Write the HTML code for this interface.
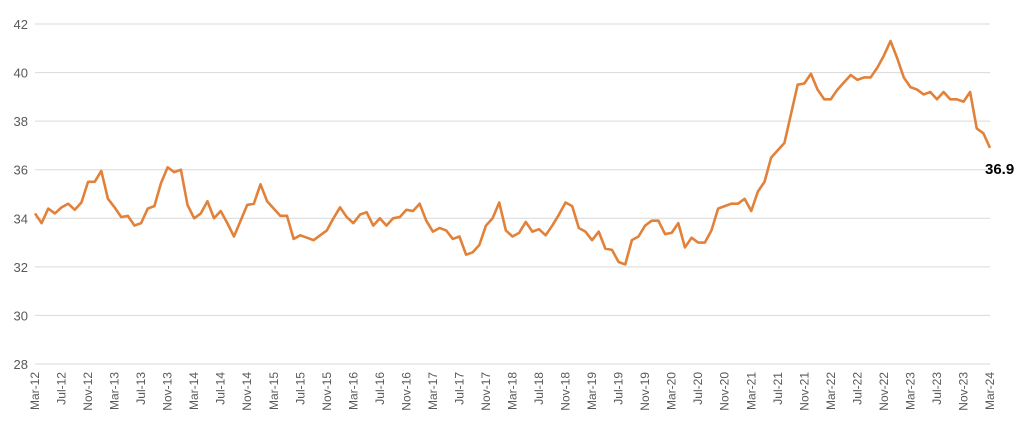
<!DOCTYPE html>
<html><head><meta charset="utf-8"><style>
html,body{margin:0;padding:0;background:#fff;}
svg{display:block;font-family:"Liberation Sans",Arial,sans-serif;}
</style></head><body>
<svg id="chart" width="1024" height="429" viewBox="0 0 1024 429" xmlns="http://www.w3.org/2000/svg">
<g id="grid"></g>
<g id="yaxis"></g>
<g id="xaxis"></g>
<g id="series"></g>
</svg>
<script>
const yTicks = [28,30,32,34,36,38,40,42];
const monthNames = ["Jan","Feb","Mar","Apr","May","Jun","Jul","Aug","Sep","Oct","Nov","Dec"];
const values = [
34.2,33.8,34.4,34.2,34.45,34.6,34.35,34.65,35.5,35.5,
35.95,34.8,34.45,34.05,34.1,33.7,33.8,34.4,34.5,35.45,
36.1,35.9,36.0,34.55,34.0,34.2,34.7,34.0,34.3,33.8,
33.25,33.9,34.55,34.6,35.4,34.7,34.4,34.1,34.1,33.15,
33.3,33.2,33.1,33.3,33.5,34.0,34.45,34.05,33.8,34.15,
34.25,33.7,34.0,33.7,34.0,34.05,34.35,34.3,34.6,33.9,
33.45,33.6,33.5,33.15,33.25,32.5,32.6,32.9,33.7,34.0,
34.65,33.5,33.25,33.4,33.85,33.45,33.55,33.3,33.7,34.15,
34.65,34.5,33.6,33.45,33.1,33.45,32.75,32.7,32.2,32.1,
33.1,33.25,33.7,33.9,33.9,33.35,33.4,33.8,
32.8,33.2,33.0,33.0,33.5,
34.4,34.5,34.6,34.6,34.8,34.3,35.1,35.5,36.5,36.8,37.1,38.3,39.5,39.55,39.95,
39.3,38.9,38.9,39.3,39.6,39.9,39.7,39.8,39.8,40.2,40.7,41.3,40.6,39.8,39.4,39.3,39.1,39.2,38.9,39.2,38.9,38.9,38.8,39.2,37.7,37.5,36.9
];
const startYear = 2012, startMonth = 2; // Mar-12
const lastLabel = "36.9";

const NS="http://www.w3.org/2000/svg";
const x0=35, x1=990, yTop=24, yBot=364, vMin=28, vMax=42;
const xs = i => x0 + (x1-x0)*i/(values.length-1);
const ys = v => yBot - (v-vMin)/(vMax-vMin)*(yBot-yTop);
function mk(tag,attrs,parent){const e=document.createElementNS(NS,tag);for(const k in attrs)e.setAttribute(k,attrs[k]);parent.appendChild(e);return e;}

const grid=document.getElementById('grid'), yax=document.getElementById('yaxis'), xax=document.getElementById('xaxis'), ser=document.getElementById('series');
yTicks.forEach(t=>{
  const l=mk('line',{x1:x0,x2:x1,y1:ys(t),y2:ys(t),stroke:'#d9d9d9','stroke-width':1},grid);
  
  
  const tx=mk('text',{x:28,y:ys(t)+5,'text-anchor':'end','font-size':13,fill:'#595959'},yax);
  tx.textContent=t;
  
  
});
for(let i=0;i<values.length;i+=4){
  const m=(startMonth+i)%12, yr=startYear+Math.floor((startMonth+i)/12);
  const lab=monthNames[m]+"-"+String(yr%100).padStart(2,'0');
  const x=xs(i)+4;
  const tx=mk('text',{x:x,y:372,'text-anchor':'end','font-size':12,fill:'#595959',transform:`rotate(-90 ${x} 372)`},xax);
  tx.textContent=lab;
  
  
}
const d=values.map((v,i)=>(i?'L':'M')+xs(i).toFixed(2)+' '+ys(v).toFixed(2)).join(' ');
const p=mk('path',{d:d,fill:'none',stroke:'#E2813A','stroke-width':2.6,'stroke-linejoin':'round'},ser);


const n=values.length-1;
const lt=mk('text',{x:xs(n)-5,y:ys(values[n])+26,'font-size':15,'font-weight':'bold',fill:'#000'},ser);
lt.textContent=lastLabel;


</script>
</body></html>
